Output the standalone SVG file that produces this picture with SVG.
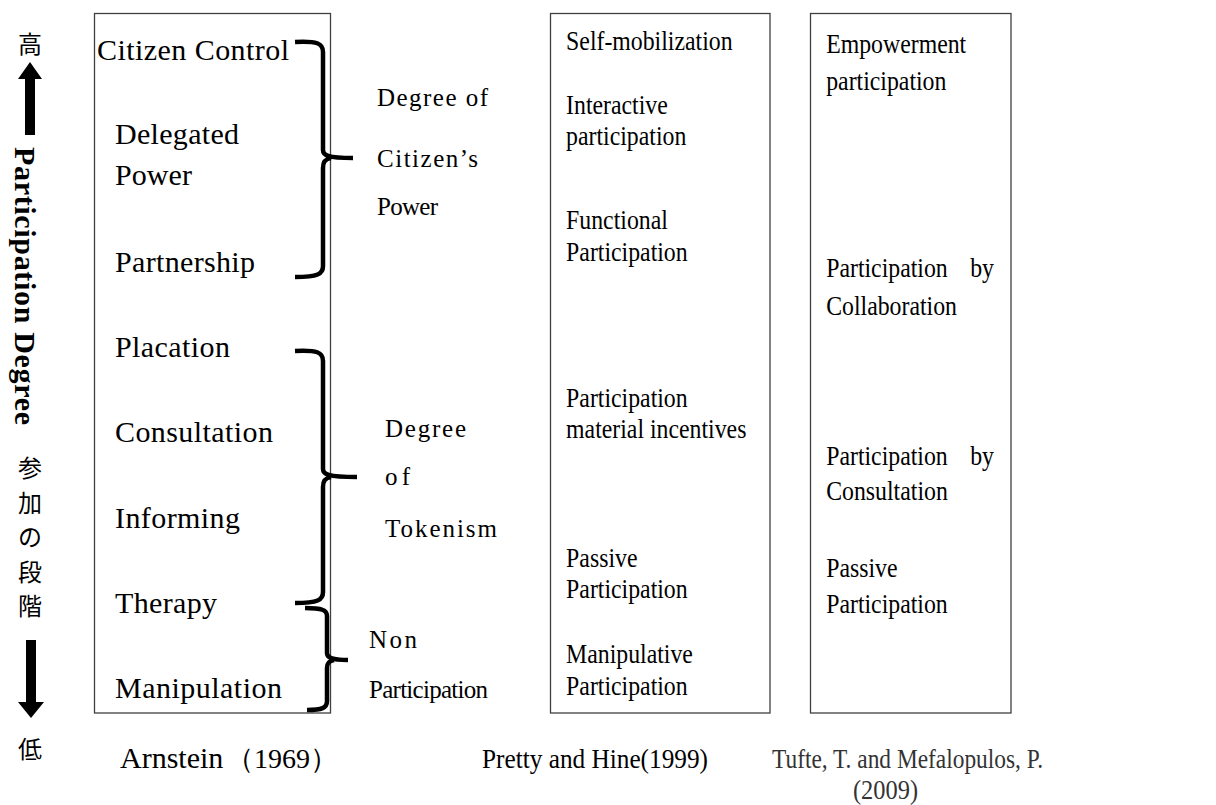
<svg xmlns="http://www.w3.org/2000/svg" width="1216" height="805" viewBox="0 0 1216 805">
<style>
  .t { font-family: "Liberation Serif", "Times New Roman", serif; font-size: 30px; fill: #000; }
  .s { font-family: "Liberation Serif", "Times New Roman", serif; font-size: 25px; fill: #000; }
  .c { font-family: "Liberation Serif", "Times New Roman", serif; font-size: 28px; fill: #000; }
  .jp { font-family: "Noto Sans CJK JP", sans-serif; font-size: 24px; fill: #000; text-anchor: middle; }
  .box { fill: #fff; stroke: #404040; stroke-width: 1.3; }
  .brace { fill: none; stroke: #000; stroke-width: 4.5; stroke-linecap: butt; stroke-linejoin: round; }
</style>
<rect width="1216" height="805" fill="#fff"/>

<g id="axis">
  <text class="jp" x="30" y="53">高</text>
  <polygon points="30,62 42,79 35,79 35,135 25,135 25,79 18,79" fill="#000"/>
  <text transform="translate(15,147) rotate(90)" style="font-family: 'Liberation Serif', 'Times New Roman', serif; font-size: 30px; font-weight: bold;" textLength="278" lengthAdjust="spacing">Participation Degree</text>
  <text class="jp" x="30" y="477">参</text>
  <text class="jp" x="30" y="512">加</text>
  <text class="jp" x="30" y="546">の</text>
  <text class="jp" x="30" y="581">段</text>
  <text class="jp" x="30" y="615">階</text>
  <polygon points="26,640 36,640 36,702 44,702 31,718 18,702 26,702" fill="#000"/>
  <text class="jp" x="30" y="758">低</text>
</g>

<g id="arnstein">
  <rect class="box" x="94.5" y="13.5" width="236" height="699.5"/>
  <text class="t" x="97" y="60" textLength="192">Citizen Control</text>
  <text class="t" x="115" y="144" textLength="124">Delegated</text>
  <text class="t" x="115" y="185" textLength="77">Power</text>
  <text class="t" x="115" y="272" textLength="140">Partnership</text>
  <text class="t" x="115" y="357" textLength="115">Placation</text>
  <text class="t" x="115" y="442" textLength="158">Consultation</text>
  <text class="t" x="115" y="528" textLength="125">Informing</text>
  <text class="t" x="115" y="613" textLength="102">Therapy</text>
  <text class="t" x="115" y="698" textLength="167">Manipulation</text>
  <text class="t" y="768"><tspan x="120">Arnstein</tspan><tspan x="226" style="font-size:28px">（1969）</tspan></text>
</g>

<g id="group-labels">
  <text class="s" x="377" y="106" textLength="111">Degree of</text>
  <text class="s" x="377" y="167" textLength="101">Citizen’s</text>
  <text class="s" x="377" y="215" textLength="61">Power</text>
  <text class="s" x="385" y="437" textLength="81">Degree</text>
  <text class="s" x="385" y="485" textLength="25">of</text>
  <text class="s" x="385" y="537" textLength="112">Tokenism</text>
  <text class="s" x="369" y="648" textLength="48">Non</text>
  <text class="s" x="369" y="698" textLength="119">Participation</text>
</g>

<g id="connectors">
  <path class="brace" d="M295,42 C317,41 323,43 323,52 L323,150 C323,155 327,158 353,158 M331,158 C325,159 323,162 323,168 L323,266 C323,274 318,277 295,277"/>
  <path class="brace" d="M295,351 C317,350 323,352 323,361 L323,469 C323,474 327,477 357,477 M331,477 C325,478 323,481 323,487 L323,592 C323,600 318,603 295,603"/>
  <path class="brace" d="M305,608 C322,608 327,610 327,616 L327,653 C327,657 330,660 348,660 M334,660 C329,661 327,663 327,668 L327,701 C327,708 322,710 307,710"/>
</g>

<g id="pretty">
  <rect class="box" x="550.5" y="13.5" width="219.5" height="699.5"/>
  <g transform="scale(0.85,1)">
    <text class="c" x="666" y="50">Self-mobilization</text>
    <text class="c" x="666" y="114">Interactive</text>
    <text class="c" x="666" y="145">participation</text>
    <text class="c" x="666" y="229">Functional</text>
    <text class="c" x="666" y="261">Participation</text>
    <text class="c" x="666" y="407">Participation</text>
    <text class="c" x="666" y="438">material incentives</text>
    <text class="c" x="666" y="567">Passive</text>
    <text class="c" x="666" y="598">Participation</text>
    <text class="c" x="666" y="663">Manipulative</text>
    <text class="c" x="666" y="695">Participation</text>
  </g>
  <text class="c" x="482" y="768" textLength="226" lengthAdjust="spacingAndGlyphs">Pretty and Hine(1999)</text>
</g>

<g id="tufte">
  <rect class="box" x="810.5" y="13.5" width="200.5" height="699.5"/>
  <g transform="scale(0.85,1)">
    <text class="c" x="972" y="53">Empowerment</text>
    <text class="c" x="972" y="90">participation</text>
    <text class="c" x="972" y="277">Participation</text>
    <text class="c" x="1169.4" y="277" text-anchor="end">by</text>
    <text class="c" x="972" y="315">Collaboration</text>
    <text class="c" x="972" y="465">Participation</text>
    <text class="c" x="1169.4" y="465" text-anchor="end">by</text>
    <text class="c" x="972" y="500">Consultation</text>
    <text class="c" x="972" y="577">Passive</text>
    <text class="c" x="972" y="613">Participation</text>
  </g>
  <text class="c" x="772" y="768" textLength="271" lengthAdjust="spacingAndGlyphs" style="fill:#333">Tufte, T. and Mefalopulos, P.</text>
  <text class="c" x="853" y="799" textLength="65" lengthAdjust="spacingAndGlyphs" style="fill:#333">(2009)</text>
</g>
</svg>
